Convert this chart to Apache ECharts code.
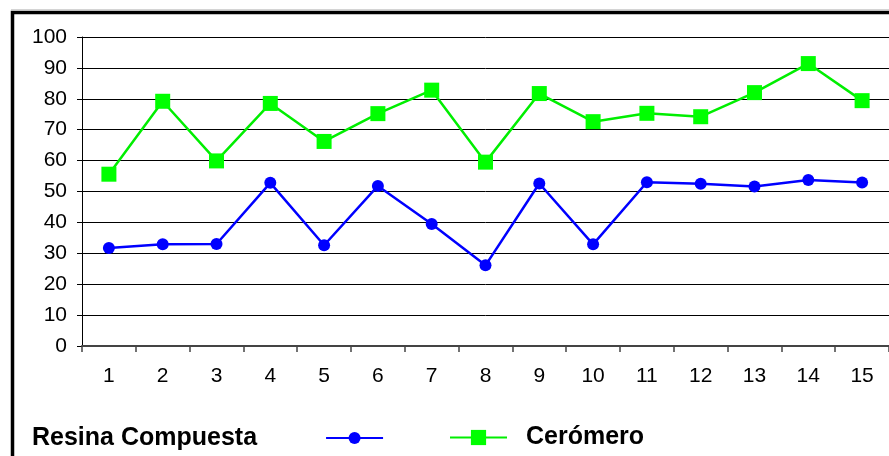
<!DOCTYPE html>
<html>
<head>
<meta charset="utf-8">
<script src="https://cdn.jsdelivr.net/npm/echarts@6/dist/echarts.min.js"></script>
<style>
  html, body { margin: 0; padding: 0; background: #fff; }
  #chart { width: 889px; height: 456px; }
</style>
</head>
<body>
<div id="chart"></div>
<script>
// Sample numbers along the x axis
const categories = ['1','2','3','4','5','6','7','8','9','10','11','12','13','14','15'];

// Measured values per sample
const resinaCompuesta = [31.7, 32.9, 33.0, 52.8, 32.6, 51.8, 39.5, 26.1, 52.6, 32.9, 53.0, 52.5, 51.6, 53.7, 52.9];
const ceromero = [55.6, 79.2, 59.9, 78.5, 66.2, 75.2, 82.8, 59.5, 81.7, 72.6, 75.3, 74.2, 82.0, 91.4, 79.4];

// Y axis scale
const yMin = 0;
const yMax = 100;
const yStep = 10;

const FONT = '"Liberation Sans", Arial, sans-serif';

const chart = echarts.init(document.getElementById('chart'), null, { renderer: 'canvas' });

chart.setOption({
  backgroundColor: '#ffffff',
  animation: false,
  graphic: [
    // faint shadow line above the frame
    { type: 'line', shape: { x1: 11, y1: 9.5, x2: 889, y2: 9.5 }, style: { stroke: '#d4d4d4', lineWidth: 1 }, silent: true },
    // outer frame (runs off the right and bottom edges)
    { type: 'rect', shape: { x: 12.5, y: 12.5, width: 900, height: 500 }, style: { fill: null, stroke: '#000', lineWidth: 3.5 }, silent: true }
  ],
  grid: { left: 82, right: 0, top: 37, bottom: 110, containLabel: false },
  legend: [
    {
      data: ['Resina Compuesta'],
      left: 32, top: 425.5,
      padding: 0,
      align: 'right',
      itemWidth: 57, itemHeight: 15,
      textStyle: { fontFamily: FONT, fontWeight: 'bold', fontSize: 25, color: '#000', padding: [0, 64, 0, 0] }
    },
    {
      data: ['Cerómero'],
      left: 449, top: 425,
      padding: 0,
      align: 'left',
      itemWidth: 57, itemHeight: 19,
      textStyle: { fontFamily: FONT, fontWeight: 'bold', fontSize: 25, color: '#000', padding: [0, 0, 0, 14] }
    }
  ],
  xAxis: {
    type: 'category',
    data: categories,
    boundaryGap: true,
    axisLine: { lineStyle: { color: '#444', width: 2 } },
    axisTick: { show: true, alignWithLabel: false, length: 6, lineStyle: { color: '#444', width: 1.5 } },
    axisLabel: { fontFamily: FONT, fontSize: 21, color: '#000', margin: 20, interval: 0 },
    splitLine: { show: false }
  },
  yAxis: {
    type: 'value',
    min: yMin, max: yMax, interval: yStep,
    axisLine: { show: true, lineStyle: { color: '#000', width: 1 } },
    axisTick: { show: true, length: 5, lineStyle: { color: '#000', width: 1 } },
    axisLabel: { fontFamily: FONT, fontSize: 21, color: '#000', margin: 15 },
    splitLine: { show: true, lineStyle: { color: '#000', width: 1 } }
  },
  series: [
    {
      name: 'Resina Compuesta',
      type: 'line',
      data: resinaCompuesta,
      symbol: 'circle',
      symbolSize: 12,
      lineStyle: { color: '#0000ff', width: 2.5 },
      itemStyle: { color: '#0000ff' },
      z: 3
    },
    {
      name: 'Cerómero',
      type: 'line',
      data: ceromero,
      symbol: 'rect',
      symbolSize: 15,
      lineStyle: { color: '#00ee00', width: 2.5 },
      itemStyle: { color: '#00ff00' },
      z: 3
    }
  ]
});
</script>
</body>
</html>
